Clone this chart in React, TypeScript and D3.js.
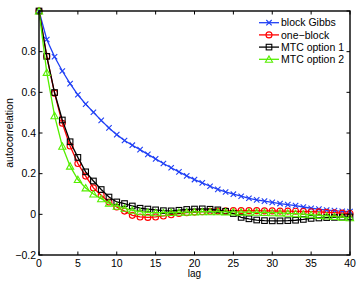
import { useEffect, useRef } from "react";
import * as d3 from "d3";

const lags = d3.range(0, 41);

const blockGibbs = [
  1.0, 0.86, 0.775, 0.705, 0.643, 0.588, 0.542, 0.502, 0.462, 0.425, 0.392,
  0.363, 0.34, 0.318, 0.295, 0.273, 0.25, 0.229, 0.209, 0.189, 0.171, 0.155,
  0.138, 0.123, 0.11, 0.099, 0.089, 0.079, 0.071, 0.065, 0.059, 0.053, 0.048,
  0.043, 0.036, 0.03, 0.026, 0.021, 0.018, 0.015, 0.014,
];

const oneBlock = [
  1.0, 0.777, 0.596, 0.448, 0.336, 0.25, 0.188, 0.13, 0.094, 0.061, 0.036,
  0.016, -0.005, -0.013, -0.015, -0.013, -0.008, -0.002, 0.004, 0.008, 0.011,
  0.013, 0.015, 0.016, 0.017, 0.018, 0.018, 0.018, 0.018, 0.017, 0.017, 0.016,
  0.016, 0.015, 0.014, 0.013, 0.012, 0.01, 0.008, 0.006, 0.004,
];

const mtcOption1 = [
  1.0, 0.777, 0.599, 0.464, 0.357, 0.28, 0.209, 0.164, 0.122, 0.085, 0.061,
  0.053, 0.041, 0.03, 0.026, 0.022, 0.018, 0.017, 0.02, 0.024, 0.026, 0.027,
  0.025, 0.022, 0.015, 0.004, -0.015, -0.022, -0.028, -0.031, -0.032, -0.032,
  -0.031, -0.029, -0.025, -0.02, -0.018, -0.016, -0.015, -0.014, -0.013,
];

const mtcOption2 = [
  1.0, 0.698, 0.485, 0.335, 0.237, 0.171, 0.13, 0.1, 0.077, 0.055, 0.04, 0.03,
  0.02, 0.013, 0.01, 0.008, 0.008, 0.009, 0.01, 0.011, 0.012, 0.013, 0.013,
  0.013, 0.012, 0.012, 0.011, 0.011, 0.01, 0.009, 0.008, 0.007, 0.005, 0.003,
  0.001, -0.002, -0.005, -0.008, -0.011, -0.014, -0.017,
];

const seriesNames = ["block Gibbs", "one\u2212block", "MTC option 1", "MTC option 2"];
const seriesValues = [blockGibbs, oneBlock, mtcOption1, mtcOption2];
const seriesColors = ["#1f3ff5", "#ff0000", "#000000", "#55ee00"];
const seriesMarkers = ["x", "circle", "square", "triangle"];

const xTicks = [0, 5, 10, 15, 20, 25, 30, 35, 40];
const yTicks = [-0.2, 0, 0.2, 0.4, 0.6, 0.8, 1];
const yTickLabels = ["\u22120.2", "0", "0.2", "0.4", "0.6", "0.8", ""];

const W = 361;
const H = 282;
const margin = { top: 11, right: 11, bottom: 27, left: 39 };
const FONT = "Liberation Sans, Arial, sans-serif";

// draw one marker of the given kind centred at (0,0)
const drawMarker = (
  sel: d3.Selection<SVGGElement, unknown, null, undefined>,
  kind: string,
  color: string
) => {
  if (kind === "x") {
    sel.append("path").attr("d", "M-2.7,-2.7L2.7,2.7M-2.7,2.7L2.7,-2.7")
      .attr("stroke", color).attr("stroke-width", 1.1).attr("fill", "none");
  } else if (kind === "circle") {
    sel.append("circle").attr("r", 3)
      .attr("stroke", color).attr("stroke-width", 1.1).attr("fill", "none");
  } else if (kind === "square") {
    sel.append("rect").attr("x", -2.8).attr("y", -2.8).attr("width", 5.6).attr("height", 5.6)
      .attr("stroke", color).attr("stroke-width", 1.1).attr("fill", "none");
  } else {
    sel.append("path").attr("d", "M0,-3.4L3.6,3L-3.6,3Z")
      .attr("stroke", color).attr("stroke-width", 1.1).attr("fill", "none");
  }
};

export default function App() {
  const svgRef = useRef<SVGSVGElement>(null);

  useEffect(() => {
    if (!svgRef.current) return;
    document.body.style.margin = "0";
    const svg = d3.select(svgRef.current);
    svg.selectAll("*").remove();

    const innerW = W - margin.left - margin.right;
    const innerH = H - margin.top - margin.bottom;

    const x = d3.scaleLinear().domain([0, 40]).range([0, innerW]);
    const y = d3.scaleLinear().domain([-0.2, 1]).range([innerH, 0]);

    const g = svg.append("g").attr("transform", `translate(${margin.left},${margin.top})`);

    // series lines + markers
    seriesValues.forEach((vals, i) => {
      const color = seriesColors[i];
      const line = d3.line<number>().x((_, j) => x(lags[j])).y((d) => y(d));
      g.append("path").datum(vals).attr("d", line)
        .attr("fill", "none").attr("stroke", color).attr("stroke-width", 1.3);
      vals.forEach((v, j) => {
        const m = g.append("g").attr("transform", `translate(${x(lags[j])},${y(v)})`);
        drawMarker(m, seriesMarkers[i], color);
      });
    });

    // box
    g.append("rect").attr("width", innerW).attr("height", innerH)
      .attr("fill", "none").attr("stroke", "#000").attr("stroke-width", 1.4);

    // ticks inward on all sides
    const tickLen = 3.5;
    xTicks.forEach((t) => {
      g.append("line").attr("x1", x(t)).attr("x2", x(t)).attr("y1", innerH).attr("y2", innerH - tickLen)
        .attr("stroke", "#000");
      g.append("line").attr("x1", x(t)).attr("x2", x(t)).attr("y1", 0).attr("y2", tickLen)
        .attr("stroke", "#000");
      g.append("text").attr("x", x(t)).attr("y", innerH + 12)
        .attr("text-anchor", "middle").attr("font-family", FONT).attr("font-size", 10.5)
        .text(String(t));
    });
    yTicks.forEach((t, i) => {
      g.append("line").attr("x1", 0).attr("x2", tickLen).attr("y1", y(t)).attr("y2", y(t))
        .attr("stroke", "#000");
      g.append("line").attr("x1", innerW).attr("x2", innerW - tickLen).attr("y1", y(t)).attr("y2", y(t))
        .attr("stroke", "#000");
      g.append("text").attr("x", -3).attr("y", y(t)).attr("dy", "0.35em")
        .attr("text-anchor", "end").attr("font-family", FONT).attr("font-size", 10.5)
        .text(yTickLabels[i]);
    });

    // axis labels
    svg.append("text").attr("x", margin.left + innerW / 2).attr("y", 277)
      .attr("text-anchor", "middle").attr("font-family", FONT).attr("font-size", 10)
      .text("lag");
    svg.append("text").attr("transform", `translate(13,${margin.top + innerH / 2}) rotate(-90)`)
      .attr("text-anchor", "middle").attr("font-family", FONT).attr("font-size", 10.5)
      .text("autocorrelation");

    // legend (no box)
    const lg = svg.append("g").attr("transform", "translate(259,22.7)");
    seriesNames.forEach((name, i) => {
      const row = lg.append("g").attr("transform", `translate(0,${i * 12.2})`);
      row.append("line").attr("x1", 0).attr("x2", 20).attr("stroke", seriesColors[i]).attr("stroke-width", 1.3);
      const m = row.append("g").attr("transform", "translate(10,0)");
      drawMarker(m, seriesMarkers[i], seriesColors[i]);
      row.append("text").attr("x", 22).attr("dy", "0.35em")
        .attr("font-family", FONT).attr("font-size", 10.5).text(name);
    });
  }, []);

  return <svg ref={svgRef} width={W} height={H} style={{ display: "block" }} />;
}
